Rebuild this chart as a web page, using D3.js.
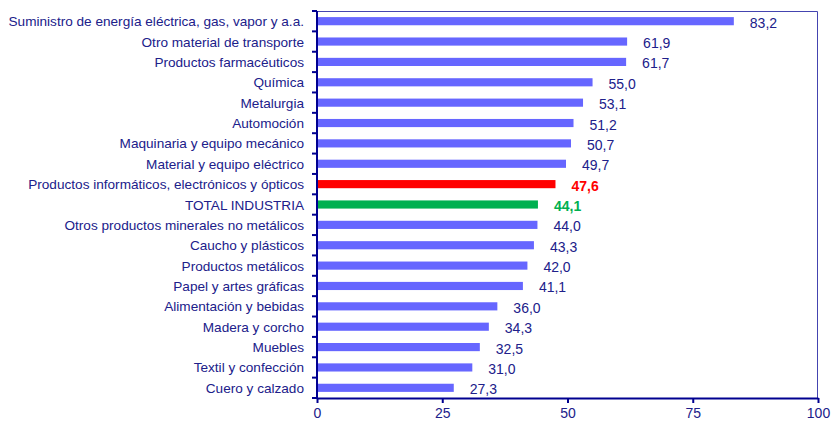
<!DOCTYPE html>
<html>
<head>
<meta charset="utf-8">
<script src="https://cdn.jsdelivr.net/npm/d3@7"></script>
<style>
  body { margin: 0; background: #fff; }
  text { font-family: "Liberation Sans", Arial, sans-serif; }
</style>
</head>
<body>
<div id="chart"></div>
<script>
const categories = [
  "Suministro de energía eléctrica, gas, vapor y a.a.",
  "Otro material de transporte",
  "Productos farmacéuticos",
  "Química",
  "Metalurgia",
  "Automoción",
  "Maquinaria y equipo mecánico",
  "Material y equipo eléctrico",
  "Productos informáticos, electrónicos y ópticos",
  "TOTAL INDUSTRIA",
  "Otros productos minerales no metálicos",
  "Caucho y plásticos",
  "Productos metálicos",
  "Papel y artes gráficas",
  "Alimentación y bebidas",
  "Madera y corcho",
  "Muebles",
  "Textil y confección",
  "Cuero y calzado"
];
const values = [83.2, 61.9, 61.7, 55.0, 53.1, 51.2, 50.7, 49.7, 47.6, 44.1, 44.0, 43.3, 42.0, 41.1, 36.0, 34.3, 32.5, 31.0, 27.3];
const xTicks = [0, 25, 50, 75, 100];
const highlight = {
  "Productos informáticos, electrónicos y ópticos": "#ff0000",
  "TOTAL INDUSTRIA": "#00b050"
};

const width = 831, height = 422;
const margin = { top: 11, right: 13, bottom: 24, left: 317 };
const innerW = width - margin.left - margin.right;
const innerH = height - margin.top - margin.bottom;
const textColor = "#20208a";

const data = categories.map((c, i) => ({ cat: c, value: values[i] }));

const svg = d3.select("#chart").append("svg")
  .attr("width", width)
  .attr("height", height);

const g = svg.append("g")
  .attr("transform", `translate(${margin.left},${margin.top})`);

const x = d3.scaleLinear().domain([0, 100]).range([0, innerW]);
const y = d3.scaleBand().domain(categories).range([0, innerH]).paddingInner(0.6).paddingOuter(0.3);

// plot frame (top and right)
g.append("path")
  .attr("d", `M0,0.5H${innerW - 0.5}V${innerH}`)
  .attr("fill", "none")
  .attr("stroke", "#4444b0")
  .attr("stroke-width", 1);

// bars
g.selectAll(".bar")
  .data(data)
  .enter().append("rect")
    .attr("class", "bar")
    .attr("x", 0)
    .attr("y", d => y(d.cat))
    .attr("width", d => x(d.value))
    .attr("height", y.bandwidth())
    .attr("fill", d => highlight[d.cat] || "#6666ff");

// value labels
g.selectAll(".val")
  .data(data)
  .enter().append("text")
    .attr("class", "val")
    .attr("x", d => x(d.value) + 16)
    .attr("y", d => y(d.cat) + y.bandwidth() / 2 + 6.5)
    .attr("font-size", "14px")
    .attr("font-weight", d => highlight[d.cat] ? "bold" : "normal")
    .attr("fill", d => highlight[d.cat] || textColor)
    .text(d => d3.format(".1f")(d.value).replace(".", ","));

// category labels
g.selectAll(".cat")
  .data(data)
  .enter().append("text")
    .attr("class", "cat")
    .attr("x", -13)
    .attr("y", d => y(d.cat) + y.bandwidth() / 2 + 5)
    .attr("text-anchor", "end")
    .attr("font-size", "13.6px")
    .attr("fill", textColor)
    .text(d => d.cat);

// left axis with ticks between categories
const step = y.step();
const yAxisG = g.append("g");
yAxisG.append("line")
  .attr("x1", 0).attr("x2", 0)
  .attr("y1", 0).attr("y2", innerH)
  .attr("stroke", "#000090").attr("stroke-width", 2);
yAxisG.selectAll(".ytick")
  .data(d3.range(categories.length + 1))
  .enter().append("line")
    .attr("x1", -5).attr("x2", 0)
    .attr("y1", i => y(categories[0]) - y.paddingInner() * step / 2 + i * step)
    .attr("y2", i => y(categories[0]) - y.paddingInner() * step / 2 + i * step)
    .attr("stroke", "#000090").attr("stroke-width", 2);

// bottom axis
const xAxis = d3.axisBottom(x).tickValues(xTicks).tickSize(5).tickSizeOuter(0).tickPadding(5);
const xg = g.append("g")
  .attr("transform", `translate(0,${innerH})`)
  .call(xAxis);
xg.select(".domain").attr("stroke", "#000090").attr("stroke-width", 2);
xg.selectAll(".tick line").attr("stroke", "#000090").attr("stroke-width", 2);
xg.selectAll(".tick text")
  .attr("fill", textColor)
  .attr("font-size", "14px")
  .attr("font-family", "Liberation Sans, Arial, sans-serif");
</script>
</body>
</html>
